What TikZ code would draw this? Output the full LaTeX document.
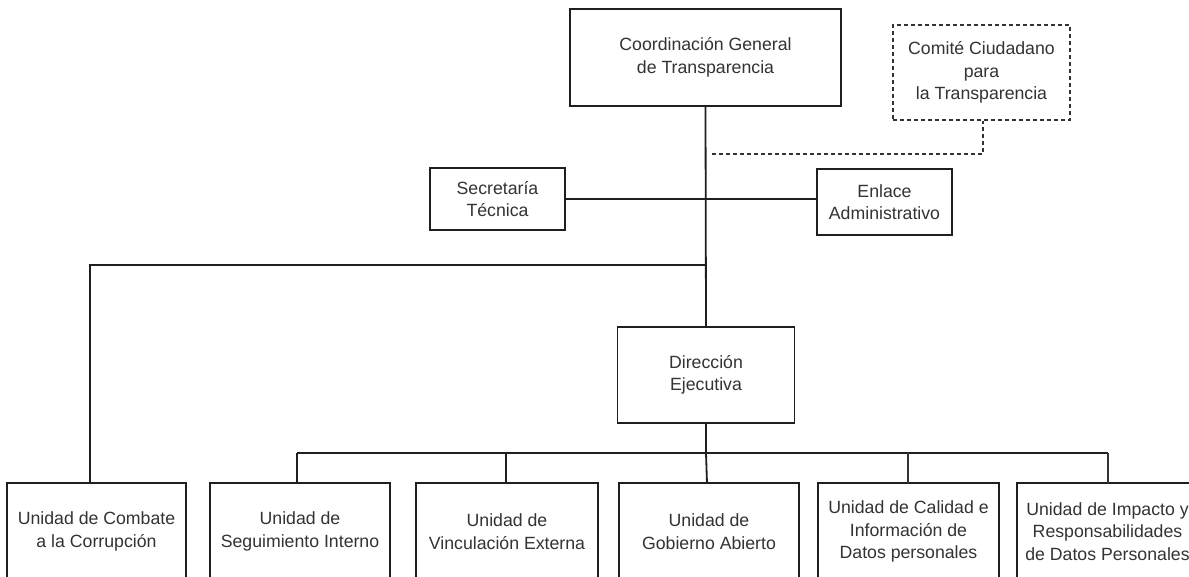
\documentclass[tikz,border=0pt]{standalone}
\usepackage{fontspec}
\setmainfont{Liberation Sans}
\begin{document}
\begin{tikzpicture}[x=1pt,y=-1pt,
  box/.style={draw=black!88,line width=1.7pt,align=center,text=black!80,
    font=\fontsize{17.7}{22.5}\selectfont,inner sep=0pt,fill=white},
  unit/.style={box,minimum width=180pt,minimum height=97pt},
  link/.style={draw=black!88,line width=1.8pt},
  thin/.style={draw=black!80,line width=1.3pt},
  dashlink/.style={draw=black!80,line width=1.4pt,dash pattern=on 4pt off 3pt}]
\useasboundingbox (0,0) rectangle (1189,577);
\clip (0,0) rectangle (1189,577);
\fill[white] (0,0) rectangle (1189,577);

% top level
\node[box,minimum width=271pt,minimum height=97pt] (cg) at (705.5,57.5) {Coordinación General\\de Transparencia};
\node[box,dashlink,minimum width=177pt,minimum height=95pt] (cc) at (981.5,72.5) {Comité Ciudadano\\para\\la Transparencia};
\node[box,minimum width=135pt,minimum height=62pt] (st) at (497.5,199) {Secretaría\\Técnica};
\node[box,minimum width=135pt,minimum height=66pt] (ea) at (884.5,202) {Enlace\\Administrativo};
\node[box,minimum width=177pt,minimum height=96pt] (de) at (706,375) {Dirección\\Ejecutiva};

% bottom units
\node[unit,minimum width=179pt] (u1) at (96.5,531.5) {Unidad de Combate\\a la Corrupción};
\node[unit] (u2) at (300,531.5) {Unidad de\\Seguimiento Interno};
\node[unit,minimum width=182pt] (u3) at (507,531.5) {Unidad de\\Vinculación Externa};
\node[unit] (u4) at (709,531.5) {Unidad de\\Gobierno Abierto};
\node[unit,minimum width=181pt] (u5) at (908.5,531.5) {Unidad de Calidad e\\Información de\\Datos personales};
\node[unit,minimum width=181pt] (u6) at (1107.5,531.5) {Unidad de Impacto y\\Responsabilidades\\de Datos Personales};

% coordinates
\coordinate (tl) at (706,265);
\coordinate (cl) at (90,265);
\coordinate (bus) at (706,453);
\coordinate (dl) at (712,154);
\coordinate (dr) at (983,154);

% connectors
\draw[link] (cg.south) -- (de.north);
\draw[link] (st.east) -- (st.east -| ea.west);
\draw[link] (tl) -- (cl) -- (cl |- u1.north);
\draw[link] (de.south) -- (bus);
\draw[link] (297,453) -- (1108,453);
\draw[link] (297,453) -- (297,483);
\draw[link] (506,453) -- (506,483);
\draw[link] (bus) -- (707,483);
\draw[thin] (908,453) -- (908,483);
\draw[thin] (1108,453) -- (1108,483);
\draw[dashlink] (dl) -- (dr) -- (dr |- cc.south);
\end{tikzpicture}
\end{document}
